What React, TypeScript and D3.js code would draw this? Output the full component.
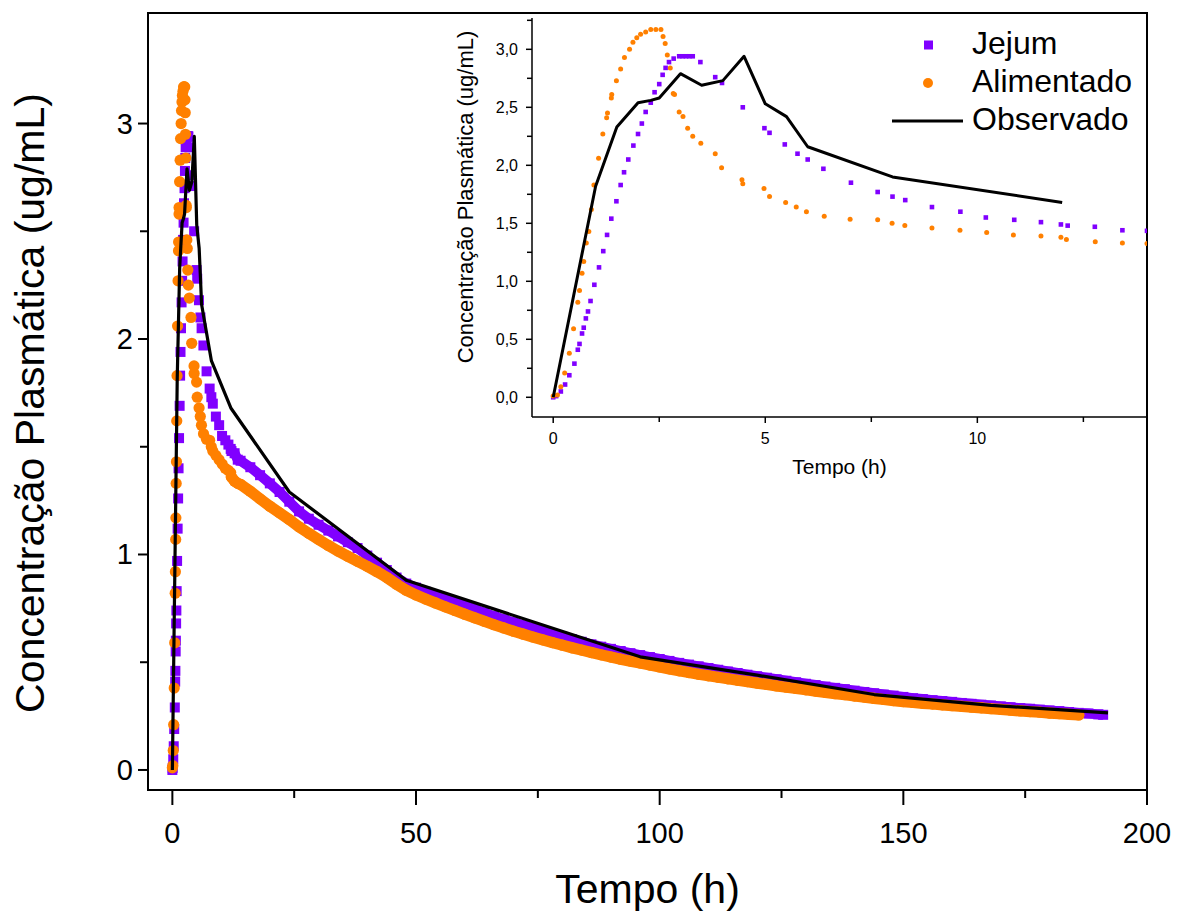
import React from 'react';
import * as d3 from 'd3';

// ---------- DATA ----------
const jejumTime = [
  0, 0.07, 0.18, 0.28, 0.38, 0.5, 0.58, 0.62, 0.68, 0.72, 0.77, 0.82, 0.88, 0.97, 1.08, 1.18, 1.27, 1.37, 1.49, 1.59,
  1.67, 1.77, 1.89, 2.0, 2.09, 2.18, 2.3, 2.39, 2.5, 2.58, 2.65, 2.73, 2.84, 2.97, 3.05, 3.13, 3.21, 3.29, 3.47, 3.82,
  3.98, 4.47, 4.98, 5.1, 5.46, 5.76, 6.0, 6.37, 7.02, 7.65, 8.0, 8.3, 8.93, 9.6, 10.2, 10.87, 11.5, 11.97, 12.13, 12.77,
  13.42, 14, 16, 18, 20, 22, 24, 26, 28, 30, 32, 34, 36, 38, 40, 42, 44, 46, 48, 50,
  52, 54, 56, 58, 60, 62, 64, 66, 68, 70, 72, 74, 76, 78, 80, 82, 84, 86, 88, 90,
  92, 94, 96, 98, 100, 102, 104, 106, 108, 110, 112, 114, 116, 118, 120, 122, 124, 126, 128, 130,
  132, 134, 136, 138, 140, 142, 144, 146, 148, 150, 152, 154, 156, 158, 160, 162, 164, 166, 168, 170,
  172, 174, 176, 178, 180, 182, 184, 186, 188, 190, 191,
];
const jejumConc = [
  0, 0.01, 0.05, 0.11, 0.19, 0.29, 0.41, 0.46, 0.55, 0.6, 0.68, 0.74, 0.83, 0.97, 1.12, 1.26, 1.4, 1.54, 1.69, 1.83,
  1.94, 2.05, 2.17, 2.27, 2.36, 2.46, 2.54, 2.63, 2.7, 2.78, 2.84, 2.89, 2.92, 2.94, 2.94, 2.94, 2.94, 2.94, 2.89, 2.76,
  2.71, 2.5, 2.32, 2.28, 2.18, 2.1, 2.05, 1.97, 1.85, 1.77, 1.73, 1.7, 1.64, 1.6, 1.55, 1.53, 1.51, 1.49, 1.48, 1.47,
  1.44, 1.435, 1.405, 1.368, 1.33, 1.29, 1.245, 1.2, 1.166, 1.138, 1.111, 1.084, 1.057, 1.03, 0.995, 0.962, 0.928, 0.893, 0.865, 0.846,
  0.827, 0.811, 0.795, 0.78, 0.763, 0.746, 0.73, 0.714, 0.699, 0.685, 0.671, 0.658, 0.645, 0.632, 0.619, 0.607, 0.595, 0.583, 0.572, 0.562,
  0.552, 0.542, 0.533, 0.524, 0.515, 0.506, 0.497, 0.489, 0.481, 0.473, 0.465, 0.457, 0.45, 0.442, 0.435, 0.428, 0.421, 0.414, 0.407, 0.4,
  0.394, 0.387, 0.381, 0.375, 0.368, 0.362, 0.356, 0.35, 0.345, 0.339, 0.333, 0.329, 0.324, 0.32, 0.316, 0.311, 0.307, 0.303, 0.299, 0.295,
  0.291, 0.287, 0.284, 0.28, 0.276, 0.273, 0.269, 0.265, 0.262, 0.258, 0.256,
];

const alimTime = [
  0, 0.1, 0.18, 0.27, 0.38, 0.48, 0.58, 0.62, 0.68, 0.72, 0.78, 0.84, 0.9, 0.96, 1.07, 1.17, 1.26, 1.28, 1.37, 1.38,
  1.49, 1.59, 1.68, 1.8, 1.88, 1.97, 2.06, 2.18, 2.3, 2.42, 2.54, 2.59, 2.64, 2.69, 2.76, 2.83, 2.86, 2.97, 3.06, 3.17,
  3.29, 3.48, 3.82, 3.97, 4.45, 4.47, 4.97, 5.1, 5.48, 5.73, 5.97, 6.39, 7.0, 7.65, 7.99, 8.29, 8.93, 9.59, 10.22, 10.85,
  11.5, 11.97, 12.1, 12.78, 13.42, 14, 16, 18, 20, 22, 24, 26, 28, 30, 32, 34, 36, 38, 40, 42,
  44, 46, 48, 50, 52, 54, 56, 58, 60, 62, 64, 66, 68, 70, 72, 74, 76, 78, 80, 82,
  84, 86, 88, 90, 92, 94, 96, 98, 100, 102, 104, 106, 108, 110, 112, 114, 116, 118, 120, 122,
  124, 126, 128, 130, 132, 134, 136, 138, 140, 142, 144, 146, 148, 150, 152, 154, 156, 158, 160, 162,
  164, 166, 168, 170, 172, 174, 176, 178, 180, 182, 184, 186,
];
const alimConc = [
  0.01, 0.02, 0.09, 0.21, 0.38, 0.59, 0.82, 0.92, 1.07, 1.17, 1.33, 1.43, 1.62, 1.83, 2.06, 2.27, 2.41, 2.45, 2.58, 2.61,
  2.73, 2.83, 2.93, 3.0, 3.06, 3.1, 3.13, 3.15, 3.17, 3.17, 3.17, 3.11, 3.05, 2.95, 2.84, 2.62, 2.61, 2.46, 2.42, 2.32,
  2.25, 2.19, 2.1, 1.98, 1.875, 1.84, 1.8, 1.73, 1.68, 1.64, 1.6, 1.56, 1.535, 1.53, 1.5, 1.48, 1.46, 1.44, 1.42, 1.4,
  1.39, 1.38, 1.36, 1.34, 1.33, 1.325, 1.293, 1.258, 1.224, 1.193, 1.162, 1.128, 1.098, 1.07, 1.042, 1.016, 0.992, 0.968, 0.945, 0.92,
  0.893, 0.862, 0.834, 0.812, 0.793, 0.775, 0.757, 0.74, 0.723, 0.706, 0.69, 0.674, 0.659, 0.644, 0.63, 0.617, 0.604, 0.591, 0.579, 0.567,
  0.556, 0.545, 0.534, 0.524, 0.514, 0.505, 0.496, 0.487, 0.478, 0.469, 0.46, 0.452, 0.444, 0.437, 0.43, 0.423, 0.416, 0.41, 0.403, 0.397,
  0.39, 0.384, 0.378, 0.372, 0.366, 0.36, 0.354, 0.349, 0.343, 0.338, 0.332, 0.327, 0.322, 0.317, 0.313, 0.309, 0.306, 0.302, 0.298, 0.295,
  0.291, 0.288, 0.284, 0.281, 0.277, 0.274, 0.271, 0.268, 0.264, 0.261, 0.258, 0.255,
];

const obsTime = [0, 1, 1.5, 2, 2.3, 2.5, 3, 3.5, 4, 4.5, 5, 5.5, 6, 8, 12, 24, 48, 96, 120, 144, 168, 192];
const obsConc = [0, 1.82, 2.33, 2.54, 2.56, 2.58, 2.79, 2.69, 2.73, 2.94, 2.53, 2.42, 2.16, 1.9, 1.68, 1.29, 0.88, 0.525, 0.44, 0.35, 0.3, 0.265];

const mainXTicks = [0, 50, 100, 150, 200];
const mainXMinor = [25, 75, 125, 175];
const mainYTicks = [0, 1, 2, 3];
const mainYMinor = [0.5, 1.5, 2.5];
const insetXTicks = [0, 5, 10];
const insetXMinor = [2.5, 7.5, 12.5];
const insetYTicks = [0, 0.5, 1, 1.5, 2, 2.5, 3];
const insetYMinor = [0.25, 0.75, 1.25, 1.75, 2.25, 2.75, 3.25];
const legendLabels = ['Jejum', 'Alimentado', 'Observado'];

const xTitle = 'Tempo (h)';
const yTitle = 'Concentração Plasmática (ug/mL)';

// ---------- STYLE ----------
const PURPLE = '#8000FF';
const ORANGE = '#FF8000';
const FONT = '"Liberation Sans", Arial, sans-serif';

const W = 1177;
const H = 913;

export default function App() {
  // main chart
  const mL = 148, mR = 1147, mT = 13, mB = 790;
  const x = d3.scaleLinear().domain([-5, 200]).range([mL, mR]);
  const y = d3.scaleLinear().domain([-0.093, 3.513]).range([mB, mT]);

  // inset chart
  const iL = 532, iR = 1147, iT = 18, iB = 417;
  const ix = d3.scaleLinear().domain([-0.5, 14]).range([iL, iR]);
  const iy = d3.scaleLinear().domain([-0.17, 3.27]).range([iB, iT]);

  const jejum = jejumTime.map((t, i) => [t, jejumConc[i]] as [number, number]);
  const alim = alimTime.map((t, i) => [t, alimConc[i]] as [number, number]);
  const obs = obsTime.map((t, i) => [t, obsConc[i]] as [number, number]);

  const mainLine = d3.line<[number, number]>().x(d => x(d[0])).y(d => y(d[1]));
  const insetLine = d3.line<[number, number]>().x(d => ix(d[0])).y(d => iy(d[1]));

  const fmt = (v: number) => d3.format('.1f')(v).replace('.', ',');

  const mainSq = 10;
  const mainR = 5.6;
  const inSq = 4.6;
  const inR = 2.5;

  // dense tail of the simulated series: markers overlap into a continuous band
  const jejumTail = jejum.filter(d => d[0] >= 12);
  const alimTail = alim.filter(d => d[0] >= 12);

  return (
    <svg width={W} height={H} style={{ position: 'absolute', left: 0, top: 0, background: '#fff' }} fontFamily={FONT}>
      <defs>
        <clipPath id="mainClip">
          <rect x={mL} y={mT} width={mR - mL} height={mB - mT} />
        </clipPath>
        <clipPath id="insetClip">
          <rect x={iL} y={iT - 4} width={iR - iL} height={iB - iT + 4} />
        </clipPath>
      </defs>
      <rect x={0} y={0} width={W} height={H} fill="#fff" />

      {/* main data */}
      <g clipPath="url(#mainClip)">
        <path d={mainLine(jejumTail) || ''} fill="none" stroke={PURPLE} strokeWidth={mainSq} strokeLinecap="butt" />
        {jejum.map((d, i) => (
          <rect key={'mj' + i} x={x(d[0]) - mainSq / 2} y={y(d[1]) - mainSq / 2} width={mainSq} height={mainSq} fill={PURPLE} />
        ))}
        <path d={mainLine(alimTail) || ''} fill="none" stroke={ORANGE} strokeWidth={mainR * 2} strokeLinecap="round" />
        {alim.map((d, i) => (
          <circle key={'ma' + i} cx={x(d[0])} cy={y(d[1])} r={mainR} fill={ORANGE} />
        ))}
        <path d={mainLine(obs) || ''} fill="none" stroke="#000" strokeWidth={3.2} strokeLinejoin="round" />
      </g>

      {/* main frame */}
      <rect x={mL} y={mT} width={mR - mL} height={mB - mT} fill="none" stroke="#000" strokeWidth={2} />

      {/* main x axis ticks */}
      {mainXTicks.map(t => (
        <g key={'mxt' + t}>
          <line x1={x(t)} x2={x(t)} y1={mB} y2={mB + 15} stroke="#000" strokeWidth={2} />
          <text x={x(t)} y={843} fontSize={29} textAnchor="middle" fill="#000">{t}</text>
        </g>
      ))}
      {mainXMinor.map(t => (
        <line key={'mxm' + t} x1={x(t)} x2={x(t)} y1={mB} y2={mB + 8} stroke="#000" strokeWidth={2} />
      ))}
      {/* main y axis ticks */}
      {mainYTicks.map(t => (
        <g key={'myt' + t}>
          <line x1={mL} x2={mL - 10} y1={y(t)} y2={y(t)} stroke="#000" strokeWidth={2} />
          <text x={133} y={y(t)} fontSize={29} textAnchor="end" dominantBaseline="central" fill="#000">{t}</text>
        </g>
      ))}
      {mainYMinor.map(t => (
        <line key={'mym' + t} x1={mL} x2={mL - 8} y1={y(t)} y2={y(t)} stroke="#000" strokeWidth={2} />
      ))}

      <text x={(mL + mR) / 2} y={903} fontSize={41} textAnchor="middle" fill="#000">{xTitle}</text>
      <text transform={`translate(44, 403) rotate(-90)`} fontSize={41} textAnchor="middle" fill="#000">{yTitle}</text>

      {/* inset data */}
      <g clipPath="url(#insetClip)">
        {jejum.map((d, i) => (
          <rect key={'ij' + i} x={ix(d[0]) - inSq / 2} y={iy(d[1]) - inSq / 2} width={inSq} height={inSq} fill={PURPLE} />
        ))}
        {alim.map((d, i) => (
          <circle key={'ia' + i} cx={ix(d[0])} cy={iy(d[1])} r={inR} fill={ORANGE} />
        ))}
        <path d={insetLine(obs.filter(d => d[0] <= 14)) || ''} fill="none" stroke="#000" strokeWidth={3} strokeLinejoin="round" />
      </g>

      {/* inset axes */}
      <line x1={iL} x2={iL} y1={iT} y2={iB} stroke="#000" strokeWidth={1.5} />
      <line x1={iL} x2={iR} y1={iB} y2={iB} stroke="#000" strokeWidth={1.5} />
      {insetYTicks.map(t => (
        <g key={'iyt' + t}>
          <line x1={iL} x2={iL - 6} y1={iy(t)} y2={iy(t)} stroke="#000" strokeWidth={1.5} />
          <text x={518} y={iy(t)} fontSize={16} textAnchor="end" dominantBaseline="central" fill="#000">{fmt(t)}</text>
        </g>
      ))}
      {insetYMinor.map(t => (
        <line key={'iym' + t} x1={iL} x2={iL - 5} y1={iy(t)} y2={iy(t)} stroke="#000" strokeWidth={1.5} />
      ))}
      {insetXTicks.map(t => (
        <g key={'ixt' + t}>
          <line x1={ix(t)} x2={ix(t)} y1={iB} y2={iB + 6} stroke="#000" strokeWidth={1.5} />
          <text x={ix(t)} y={444} fontSize={16} textAnchor="middle" fill="#000">{t}</text>
        </g>
      ))}
      {insetXMinor.map(t => (
        <line key={'ixm' + t} x1={ix(t)} x2={ix(t)} y1={iB} y2={iB + 5} stroke="#000" strokeWidth={1.5} />
      ))}
      <text x={(iL + iR) / 2} y={474} fontSize={21} textAnchor="middle" fill="#000">{xTitle}</text>
      <text transform={`translate(473, 197) rotate(-90)`} fontSize={22} textAnchor="middle" fill="#000">{yTitle}</text>

      {/* legend */}
      <rect x={928.5 - 4.5} y={45 - 4.5} width={9} height={9} fill={PURPLE} />
      <text x={972} y={54} fontSize={32} fill="#000">{legendLabels[0]}</text>
      <circle cx={928} cy={83} r={5} fill={ORANGE} />
      <text x={972} y={92} fontSize={32} fill="#000">{legendLabels[1]}</text>
      <line x1={892} x2={963} y1={121} y2={121} stroke="#000" strokeWidth={3} />
      <text x={972} y={130} fontSize={32} fill="#000">{legendLabels[2]}</text>
    </svg>
  );
}
